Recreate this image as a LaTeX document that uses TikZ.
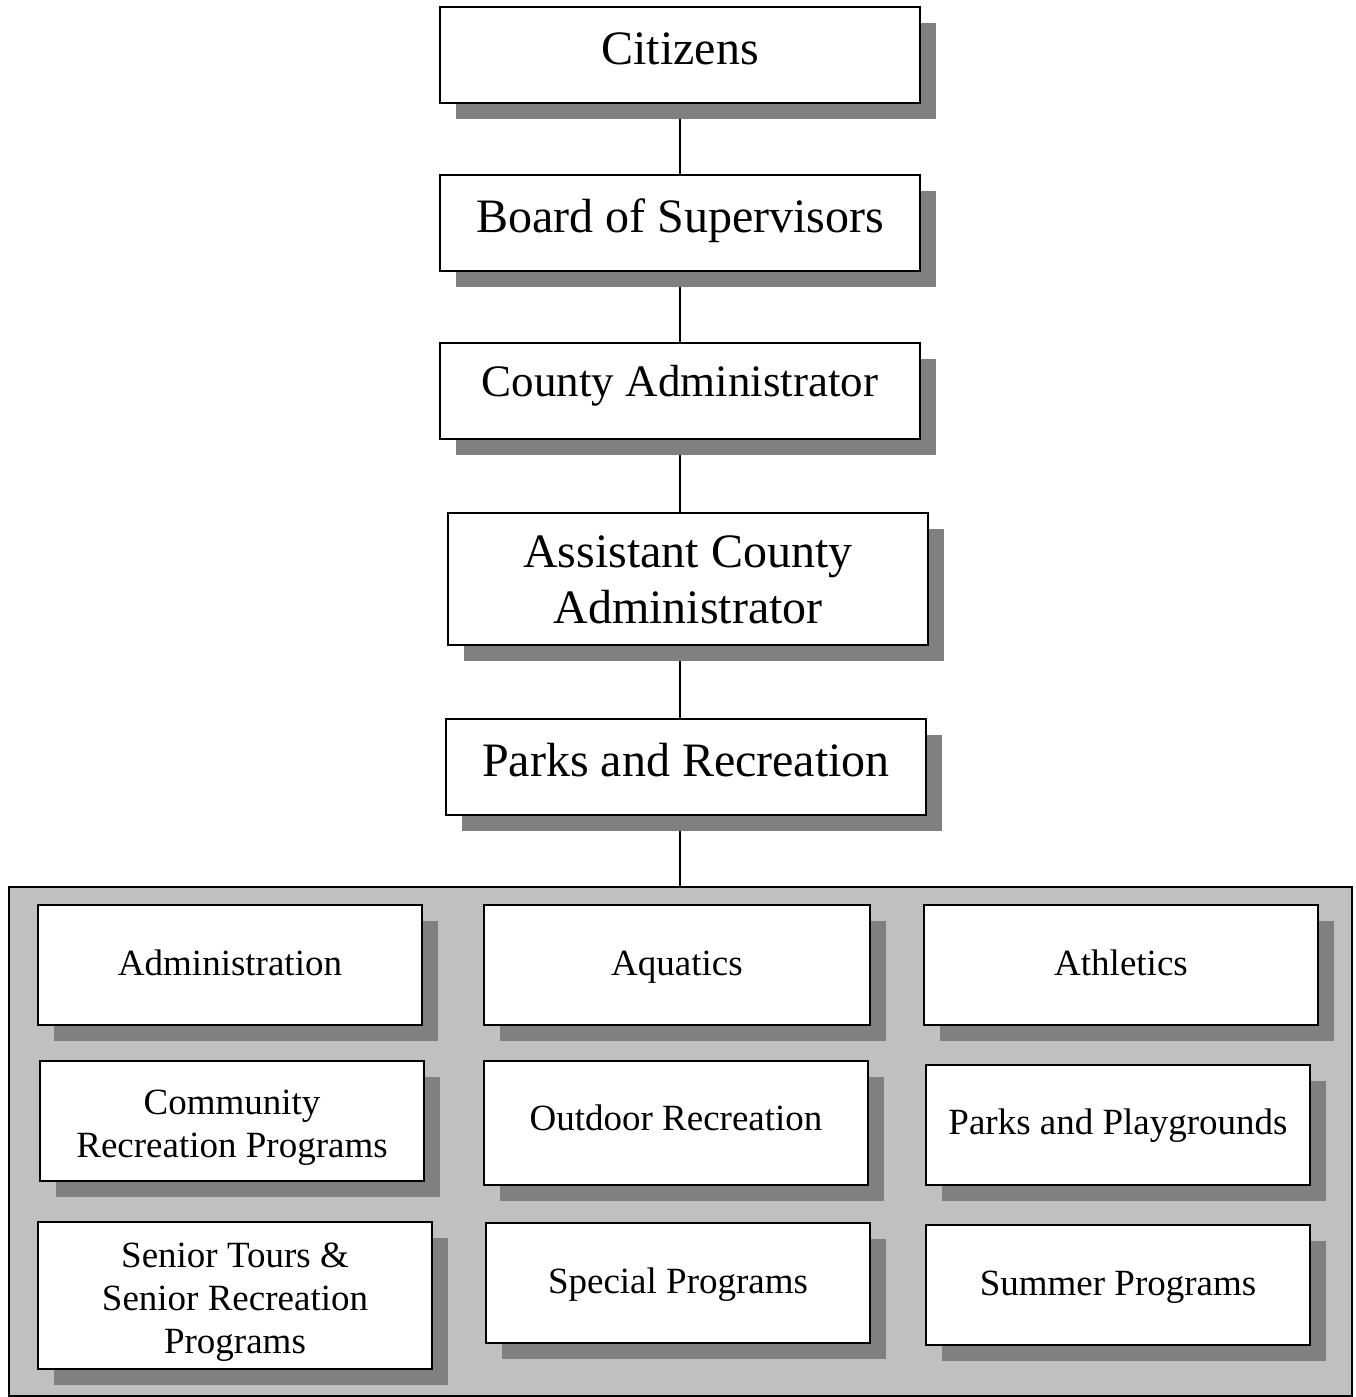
\documentclass[tikz,border=0pt]{standalone}
\usepackage{fontspec}
\setmainfont{Liberation Serif}
\usetikzlibrary{shadows,backgrounds}
\definecolor{shade}{HTML}{808080}
\definecolor{panel}{HTML}{C0C0C0}
\tikzset{
  orgbox/.style={draw=black, line width=2pt, fill=white, inner sep=0pt,
    drop shadow={shadow xshift=16pt, shadow yshift=-16pt, fill=shade, opacity=1}},
  bigtxt/.style={font=\fontsize{48}{56}\selectfont, inner sep=0pt, align=center},
  smalltxt/.style={font=\fontsize{37}{43}\selectfont, inner sep=0pt, align=center},
  link/.style={line width=1.5pt},
  panelbox/.style={draw=black, line width=1.5pt, fill=panel, inner sep=0pt}
}
\begin{document}
\begin{tikzpicture}[x=1pt,y=-1pt]
\useasboundingbox (0,0) rectangle (1356,1397);
% top chain
\node[orgbox, minimum width=480pt, minimum height=96pt] (cit) at (680,55) {};
\node[bigtxt, anchor=base] (citT) at (680,64) {Citizens};
\node[orgbox, minimum width=480pt, minimum height=96pt] (board) at (680,223) {};
\node[bigtxt, anchor=base] (boardT) at (680,232) {Board of Supervisors};
\node[orgbox, minimum width=480pt, minimum height=96pt] (county) at (680,391) {};
\node[bigtxt, font=\fontsize{45}{52}\selectfont, anchor=base] (countyT) at (680,396) {County Administrator};
\node[orgbox, minimum width=480pt, minimum height=132pt] (asst) at (688,579) {};
\node[bigtxt] (asstT) at (688,580) {Assistant County\\Administrator};
\node[orgbox, minimum width=480pt, minimum height=96pt] (parks) at (686,767) {};
\node[bigtxt, anchor=base] (parksT) at (686,776) {Parks and Recreation};
% panel
\node[panelbox, minimum width=1343pt, minimum height=509pt] (group) at (680.5,1141.5) {};
% connectors (behind the boxes and their shadows)
\begin{scope}[on background layer]
\draw[link] (cit.south) -- (board.north);
\draw[link] (board.south) -- (county.north);
\draw[link] (county.south) -- (county.south |- asst.north);
\draw[link] (county.south |- asst.south) -- (county.south |- parks.north);
\draw[link] (county.south |- parks.south) -- (county.south |- group.north);
\end{scope}
% row 1
\node[orgbox, minimum width=384pt, minimum height=120pt] (admin) at (230,965) {};
\node[smalltxt, anchor=base] (adminT) at (230,975) {Administration};
\node[orgbox, minimum width=386pt, minimum height=120pt] (aqua) at (677,965) {};
\node[smalltxt, anchor=base] (aquaT) at (677,975) {Aquatics};
\node[orgbox, minimum width=394pt, minimum height=120pt] (ath) at (1121,965) {};
\node[smalltxt, anchor=base] (athT) at (1121,975) {Athletics};
% row 2
\node[orgbox, minimum width=384pt, minimum height=120pt] (comm) at (232,1121) {};
\node[smalltxt] (commT) at (232,1128) {Community\\Recreation Programs};
\node[orgbox, minimum width=384pt, minimum height=124pt] (outd) at (676,1123) {};
\node[smalltxt, anchor=base] (outdT) at (676,1130) {Outdoor Recreation};
\node[orgbox, minimum width=384pt, minimum height=120pt] (play) at (1118,1125) {};
\node[smalltxt, anchor=base] (playT) at (1118,1134) {Parks and Playgrounds};
% row 3
\node[orgbox, minimum width=394pt, minimum height=147pt] (sen) at (235,1295.5) {};
\node[smalltxt] (senT) at (235,1302) {Senior Tours \&\\Senior Recreation\\Programs};
\node[orgbox, minimum width=384pt, minimum height=120pt] (spec) at (678,1283) {};
\node[smalltxt, anchor=base] (specT) at (678,1293) {Special Programs};
\node[orgbox, minimum width=384pt, minimum height=120pt] (summ) at (1118,1285) {};
\node[smalltxt, anchor=base] (summT) at (1118,1295) {Summer Programs};
\end{tikzpicture}
\end{document}
